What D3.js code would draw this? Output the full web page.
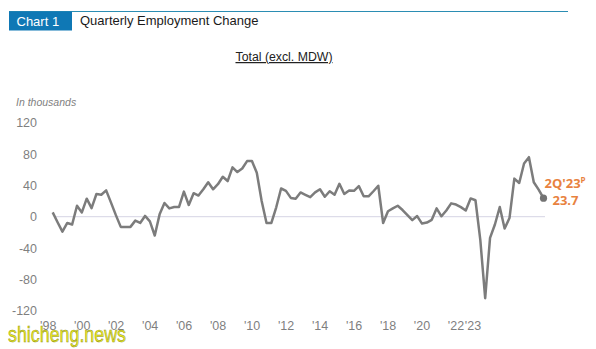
<!DOCTYPE html>
<html><head><meta charset="utf-8">
<script src="https://cdn.jsdelivr.net/npm/d3@7"></script>
<style>body{margin:0;background:#fff}svg{display:block}</style>
</head><body>
<svg id="c" width="596" height="349"></svg>
<script>
// Quarterly employment change (thousands), 1Q1998 .. 2Q2023
const quarters = d3.range(0, 102).map(i => `${i % 4 + 1}Q${1998 + Math.floor(i / 4)}`);
const values = [
  5.5, -7, -19, -8,      // 1998
  -10, 14, 5.5, 23,      // 1999
  11, 29, 28, 33.6,      // 2000
  18, 2, -13, -13,       // 2001
  -13, -5, -8, 1,        // 2002
  -6, -24, 3, 17.5,      // 2003
  10.6, 12.4, 12.4, 32,  // 2004
  15, 30, 27, 35,        // 2005
  44, 35, 41.5, 51,      // 2006
  45.5, 63, 57, 61.5,    // 2007
  71, 71, 56, 20,        // 2008
  -8, -8, 12, 36,        // 2009
  33, 24, 23, 31,        // 2010
  28, 25, 31, 35,        // 2011
  25.5, 32.5, 28, 42,    // 2012
  29, 33.5, 33, 39,      // 2013
  26, 26, 32.5, 39.5,    // 2014
  -8, 7, 10.6, 14,       // 2015
  8.5, 2, -4.4, 0.8,     // 2016
  -8.8, -7.5, -4, 10.6,  // 2017
  0.5, 8, 17, 15.5,      // 2018
  12.2, 8, 23.3, 21,     // 2019
  -30, -104, -27, -10,   // 2020
  12.4, -15, -1.7, 48.6, // 2021
  43, 68, 76, 44,        // 2022
  34.5, 23.7             // 2023
];
const yTicks = [120, 80, 40, 0, -40, -80, -120];
const yearTicks = [1998, 2000, 2002, 2004, 2006, 2008, 2010, 2012, 2014, 2016, 2018, 2020, 2022, 2023];
const yearLabels = ["'98", "'00", "'02", "'04", "'06", "'08", "'10", "'12", "'14", "'16", "'18", "'20", "'22", "'23"];

const svg = d3.select("#c");
const font = "'Liberation Sans', Arial, sans-serif";

// header
svg.append("line").attr("x1", 9).attr("x2", 568).attr("y1", 11.5).attr("y2", 11.5)
  .attr("stroke", "#2b8db3").attr("stroke-width", 1.2);
svg.append("rect").attr("x", 9).attr("y", 11.5).attr("width", 63).attr("height", 19).attr("fill", "#0f78b5");
svg.append("text").attr("x", 16.5).attr("y", 25.5).attr("fill", "#fff")
  .attr("font-family", font).attr("font-size", 13).text("Chart 1");
svg.append("text").attr("x", 80).attr("y", 25).attr("fill", "#1a1a1a")
  .attr("font-family", font).attr("font-size", 13).text("Quarterly Employment Change");

// subtitle
svg.append("text").attr("x", 284).attr("y", 61).attr("text-anchor", "middle").attr("fill", "#222")
  .attr("font-family", font).attr("font-size", 12.3).attr("text-decoration", "underline")
  .text("Total (excl. MDW)");

svg.append("text").attr("x", 16).attr("y", 105.5).attr("fill", "#7f7f7f")
  .attr("font-family", font).attr("font-size", 10.5).attr("font-style", "italic").text("In thousands");

const x = d3.scaleLinear().domain([0, 101]).range([52.7, 543.5]);
const y = d3.scaleLinear().domain([-120, 120]).range([310.7, 122.7]);
const xYear = d3.scaleLinear().domain([1998, 2020]).range([47.7, 421.5]);

// y axis labels
const yAxis = d3.axisLeft(y).tickValues(yTicks).tickSize(0).tickPadding(0).tickFormat(d => String(d));
const gy = svg.append("g").attr("transform", "translate(37,0)").call(yAxis);
gy.select(".domain").remove();
gy.selectAll("text").attr("fill", "#7f7f7f").attr("font-family", font).attr("font-size", 12.5);

// x axis labels
const xAxis = d3.axisBottom(xYear).tickValues(yearTicks).tickSize(0).tickPadding(0)
  .tickFormat((d, i) => yearLabels[i]);
const gx = svg.append("g").attr("transform", "translate(0,321)").call(xAxis);
gx.select(".domain").remove();
gx.selectAll("text").attr("fill", "#7f7f7f").attr("font-family", font).attr("font-size", 12.5);

// zero line
svg.append("line").attr("x1", 55).attr("x2", 545).attr("y1", y(0)).attr("y2", y(0))
  .attr("stroke", "#d6d4e4").attr("stroke-width", 1);

// series
const line = d3.line().x((d, i) => x(i)).y(d => y(d));
svg.append("path").datum(values).attr("d", line).attr("fill", "none")
  .attr("stroke", "#7c7c7c").attr("stroke-width", 2.5).attr("stroke-linejoin", "round");

const last = values.length - 1;
svg.append("circle").attr("cx", x(last)).attr("cy", y(values[last])).attr("r", 3.6).attr("fill", "#737373");

// annotation
const ann = svg.append("text").attr("x", 544.5).attr("y", 187.5).attr("fill", "#e8823f")
  .attr("font-family", "'Open Sans', sans-serif").attr("font-weight", "bold").attr("font-size", 13);
ann.append("tspan").text("2Q'23");
ann.append("tspan").attr("font-size", 8).attr("dy", -5).text("P");
svg.append("text").attr("x", 552.5).attr("y", 204.5).attr("fill", "#e8823f")
  .attr("font-family", "'Open Sans', sans-serif").attr("font-weight", "bold").attr("font-size", 13)
  .text(values[last].toFixed(1));

// watermark
svg.append("text").attr("x", 8).attr("y", 342).attr("fill", "#eded1c").attr("stroke", "#8c8c20")
  .attr("stroke-width", 0.5).attr("font-family", font).attr("font-size", 22)
  .attr("textLength", 118).attr("lengthAdjust", "spacingAndGlyphs").text("shicheng.news");
</script>
</body></html>
